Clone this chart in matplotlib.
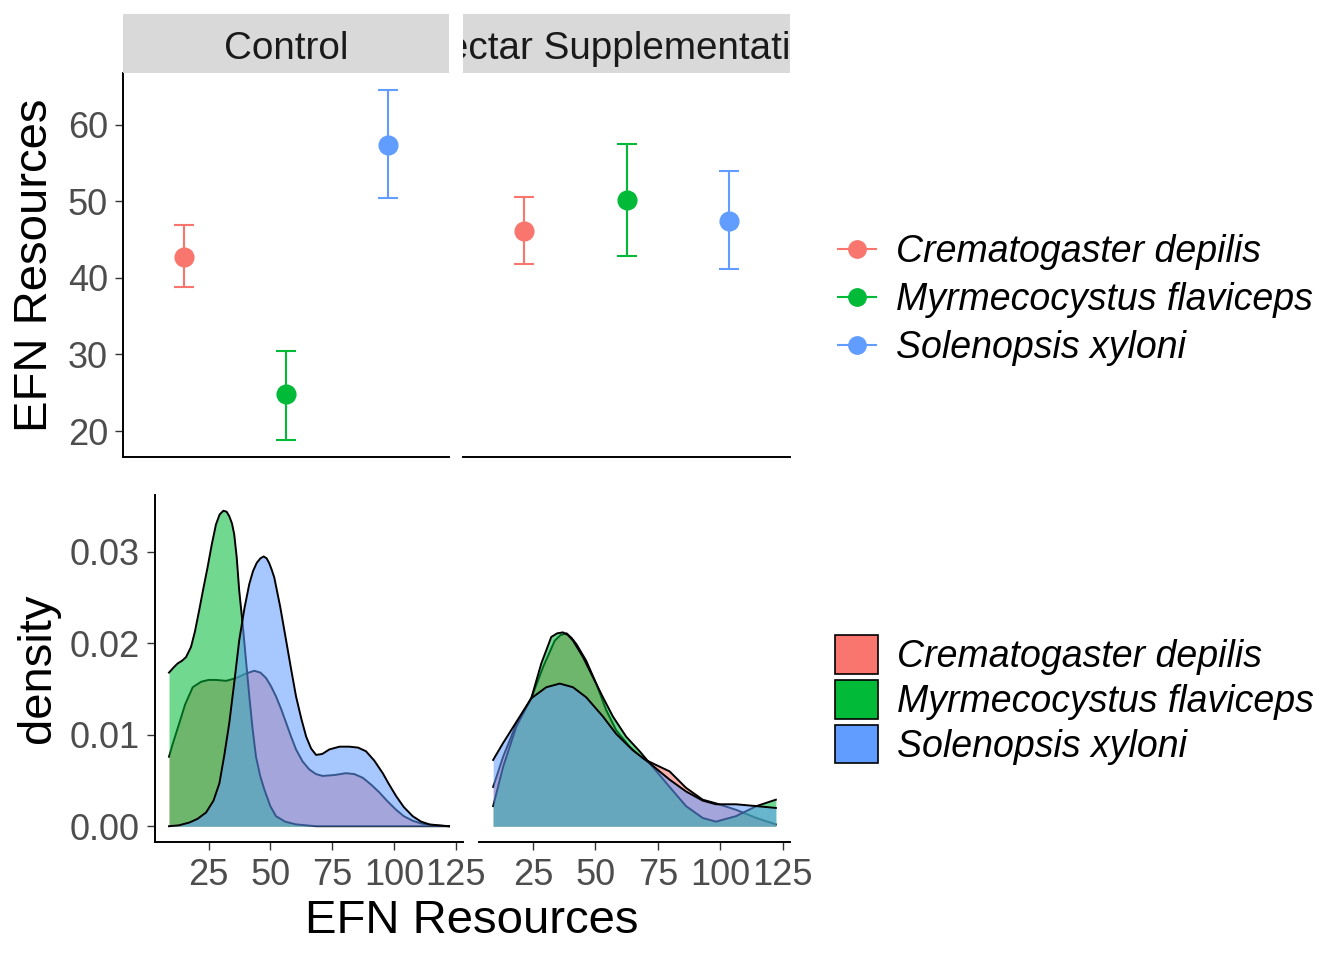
import matplotlib.pyplot as plt
from matplotlib.lines import Line2D
from matplotlib.patches import Patch

plt.rcParams['font.family'] = ['Liberation Sans', 'DejaVu Sans']

W, H = 1344, 960

species = ["Crematogaster depilis", "Myrmecocystus flaviceps", "Solenopsis xyloni"]
colors = ["#F8766D", "#00BA38", "#619CFF"]
treatments = ["Control", "Nectar Supplementation"]

# point estimates and error bar ends (species order)
mean_control = [42.75, 24.8, 57.35]
low_control = [38.8, 18.9, 50.4]
high_control = [46.85, 30.5, 64.45]
mean_nectar = [46.1, 50.1, 47.45]
low_nectar = [41.75, 42.9, 41.1]
high_nectar = [50.6, 57.45, 54.0]

# density curves
ctrl_red_x = [9.0, 10.5, 13.2, 15.5, 18.6, 22.0, 25.0, 28.0, 32.1, 36.1, 40.2, 43.5, 46.0, 48.3, 50.3,
              52.3, 54.4, 56.4, 58.4, 60.4, 63.0, 65.8, 68.5, 71.2, 76.0, 80.6, 84.0, 87.4, 91.0, 94.1,
              97.5, 100.9, 104.0, 107.6, 111.0, 115.7, 122.3]
ctrl_red_y = [0.0076, 0.0090, 0.0113, 0.0133, 0.0152, 0.0158, 0.0160, 0.0160, 0.0159, 0.0162, 0.0167,
              0.0170, 0.0168, 0.0162, 0.0153, 0.0142, 0.0128, 0.0113, 0.0098, 0.0084, 0.0071, 0.0062,
              0.0057, 0.0055, 0.0056, 0.0058, 0.0057, 0.0053, 0.0045, 0.0037, 0.0027, 0.0018, 0.0011,
              0.0006, 0.0003, 0.0001, 0.0]
ctrl_green_x = [9.0, 11.0, 12.5, 14.3, 15.9, 17.9, 19.5, 21.2, 22.9, 24.6, 26.3, 28.0, 29.5, 31.0, 32.3,
                33.4, 34.5, 35.4, 36.4, 37.4, 38.8, 40.2, 41.5, 42.8, 44.2, 45.9, 47.6, 50.0, 52.3, 56.0,
                60.4, 68.5, 80.0, 100.0, 122.3]
ctrl_green_y = [0.0168, 0.0174, 0.0178, 0.0181, 0.0185, 0.0196, 0.0213, 0.0236, 0.0260, 0.0283, 0.0308,
                0.0330, 0.0341, 0.0345, 0.0344, 0.0339, 0.0331, 0.0319, 0.0294, 0.0258, 0.0221, 0.0180,
                0.0142, 0.0107, 0.0076, 0.0055, 0.0040, 0.0022, 0.0011, 0.0005, 0.0002, 0.0, 0.0, 0.0,
                0.0]
ctrl_blue_x = [9.0, 13.0, 17.2, 20.5, 24.0, 27.0, 29.4, 31.4, 33.4, 35.4, 37.4, 39.5, 41.5, 43.0, 44.5,
               46.0, 47.3, 48.5, 49.5, 50.5, 51.6, 54.0, 56.4, 58.4, 60.4, 62.5, 64.5, 66.5, 68.5, 71.0,
               73.9, 78.0, 82.0, 85.5, 88.7, 92.0, 95.5, 98.0, 100.9, 104.0, 107.6, 111.0, 114.4, 118.0,
               122.3]
ctrl_blue_y = [0.0, 0.0001, 0.0004, 0.0008, 0.0015, 0.0028, 0.0047, 0.0078, 0.0113, 0.0157, 0.0203,
               0.0238, 0.0265, 0.0279, 0.0288, 0.0293, 0.0295, 0.0293, 0.0288, 0.0281, 0.0272, 0.0240,
               0.0203, 0.0172, 0.0142, 0.0118, 0.0098, 0.0085, 0.0078, 0.0079, 0.0084, 0.0087, 0.0087,
               0.0086, 0.0082, 0.0072, 0.0058, 0.0046, 0.0033, 0.0021, 0.0011, 0.0005, 0.0002, 0.0001,
               0.0]

nect_red_x = [9.0, 13.0, 18.3, 24.3, 29.0, 33.7, 36.0, 38.4, 40.4, 42.4, 46.3, 50.3, 54.3, 58.3, 63.7,
              69.0, 74.3, 79.7, 86.3, 93.0, 98.3, 106.3, 114.5, 122.3]
nect_red_y = [0.0043, 0.0076, 0.0112, 0.0140, 0.0174, 0.0203, 0.0209, 0.0211, 0.0206, 0.0199, 0.0181,
              0.0156, 0.0127, 0.0105, 0.0087, 0.0074, 0.0067, 0.0060, 0.0042, 0.0029, 0.0025, 0.0018,
              0.0009, 0.0002]
nect_green_x = [9.0, 13.0, 18.3, 24.3, 28.3, 32.3, 34.7, 37.0, 39.0, 41.0, 45.0, 49.0, 53.0, 57.0, 62.3,
                67.7, 71.7, 75.7, 79.7, 86.3, 93.0, 98.3, 106.3, 114.5, 122.3]
nect_green_y = [0.0022, 0.0065, 0.0109, 0.0140, 0.0178, 0.0207, 0.0211, 0.0212, 0.0209, 0.0203, 0.0185,
                0.0163, 0.0141, 0.0120, 0.0098, 0.0082, 0.0069, 0.0056, 0.0043, 0.0022, 0.0009, 0.0005,
                0.0011, 0.0022, 0.0029]
nect_blue_x = [9.0, 13.0, 18.3, 24.3, 30.3, 35.7, 41.0, 46.3, 53.0, 58.3, 65.0, 71.7, 79.7, 86.3, 93.0,
               98.3, 106.3, 114.5, 122.3]
nect_blue_y = [0.00725, 0.0091, 0.0114, 0.0140, 0.0152, 0.0156, 0.0152, 0.0141, 0.0120, 0.0101, 0.0083,
               0.0069, 0.0051, 0.0038, 0.0028, 0.0024, 0.0024, 0.0022, 0.0020]

top_data = [(mean_control, low_control, high_control), (mean_nectar, low_nectar, high_nectar)]
dens_data = [
    [(ctrl_red_x, ctrl_red_y), (ctrl_green_x, ctrl_green_y), (ctrl_blue_x, ctrl_blue_y)],
    [(nect_red_x, nect_red_y), (nect_green_x, nect_green_y), (nect_blue_x, nect_blue_y)],
]

TICK_C = "#333333"
LAB_C = "#4D4D4D"


def px_rect(x0, y0, x1, y1):
    return [x0 / W, 1 - y1 / H, (x1 - x0) / W, (y1 - y0) / H]


fig = plt.figure(figsize=(W / 100, H / 100), dpi=100)

# ---- top row: means with error bars
all_lo = min(low_control + low_nectar)
all_hi = max(high_control + high_nectar)
pad = (all_hi - all_lo) * 0.05
top_pos = [(123, 449), (463, 790)]
for i, (x0, x1) in enumerate(top_pos):
    ax = fig.add_axes(px_rect(x0, 73, x1, 457))
    means, lows, highs = top_data[i]
    for j, c in enumerate(colors):
        ax.errorbar([j + 1], [means[j]], yerr=[[means[j] - lows[j]], [highs[j] - means[j]]],
                    fmt='o', color=c, ms=13.5, elinewidth=1.5, capsize=7.5, capthick=1.5)
    ax.set_xlim(0.4, 3.6)
    ax.set_ylim(all_lo - pad, all_hi + pad)
    ax.set_xticks([])
    for s in ['top', 'right']:
        ax.spines[s].set_visible(False)
    ax.spines['bottom'].set_linewidth(1.4)
    if i == 0:
        ax.spines['left'].set_linewidth(1.4)
        ax.set_yticks([20, 30, 40, 50, 60])
        ax.tick_params(axis='y', length=5.8, width=1.0, color=TICK_C, labelcolor=LAB_C,
                       labelsize=26, pad=5)
    else:
        ax.spines['left'].set_visible(False)
        ax.set_yticks([])

    strip = fig.add_axes(px_rect(x0, 14, x1, 73))
    strip.set_facecolor("#D9D9D9")
    strip.set_xticks([])
    strip.set_yticks([])
    for s in strip.spines.values():
        s.set_visible(False)
    strip.text(0.5, 0.40, treatments[i], transform=strip.transAxes, ha='center', va='center',
               fontsize=27.8, color="#1A1A1A", clip_on=True)

# ---- bottom row: densities
xmin = min(min(x) for panel in dens_data for x, _ in panel)
xmax = max(max(x) for panel in dens_data for x, _ in panel)
ymax = max(max(y) for panel in dens_data for _, y in panel)
xpad = (xmax - xmin) * 0.05
ypad = ymax * 0.05
bot_pos = [(155, 463), (479, 790)]
for i, (x0, x1) in enumerate(bot_pos):
    ax = fig.add_axes(px_rect(x0, 495, x1, 842))
    for j, c in enumerate(colors):
        x, y = dens_data[i][j]
        ax.fill_between(x, y, 0, color=c, alpha=0.56, lw=0, zorder=2 + 2 * j)
        ax.plot(x, y, color='black', lw=1.4, zorder=3 + 2 * j, solid_joinstyle='round')
    ax.set_xlim(xmin - xpad, xmax + xpad)
    ax.set_ylim(-ypad, ymax + ypad)
    for s in ['top', 'right']:
        ax.spines[s].set_visible(False)
    ax.spines['bottom'].set_linewidth(1.4)
    ax.set_xticks([25, 50, 75, 100, 125])
    ax.tick_params(axis='x', length=5.8, width=1.0, color=TICK_C, labelcolor=LAB_C,
                   labelsize=26, pad=6)
    if i == 0:
        ax.spines['left'].set_linewidth(1.4)
        ax.set_yticks([0, 0.01, 0.02, 0.03])
        ax.set_yticklabels(["0.00", "0.01", "0.02", "0.03"])
        ax.tick_params(axis='y', length=5.8, width=1.0, color=TICK_C, labelcolor=LAB_C,
                       labelsize=26, pad=5)
    else:
        ax.spines['left'].set_visible(False)
        ax.set_yticks([])

# ---- axis titles
fig.text(35 / W, 1 - 265 / H, "EFN Resources", rotation=90, ha='center', va='center', fontsize=34)
fig.text(38 / W, 1 - 668 / H, "density", rotation=90, ha='center', va='center', fontsize=34)
fig.text(472 / W, 1 - 921 / H, "EFN Resources", ha='center', va='center', fontsize=34)

# ---- legends
pt_handles = [Line2D([0], [0], color=c, marker='o', ms=12.5, lw=1.5) for c in colors]
fig.legend(pt_handles, species, loc='center left', bbox_to_anchor=(838 / W, 1 - 300 / H),
           frameon=False, borderpad=0, borderaxespad=0, handlelength=1.0, handletextpad=0.55,
           labelspacing=0.33, prop=dict(style='italic', size=27))
box_handles = [Patch(facecolor=c, edgecolor='black', lw=1.2) for c in colors]
fig.legend(box_handles, species, loc='center left', bbox_to_anchor=(835 / W, 1 - 700 / H),
           frameon=False, borderpad=0, borderaxespad=0, handlelength=1.15, handleheight=1.22,
           handletextpad=0.5, labelspacing=0.12, prop=dict(style='italic', size=27))

fig.savefig("out.png", dpi=100)
